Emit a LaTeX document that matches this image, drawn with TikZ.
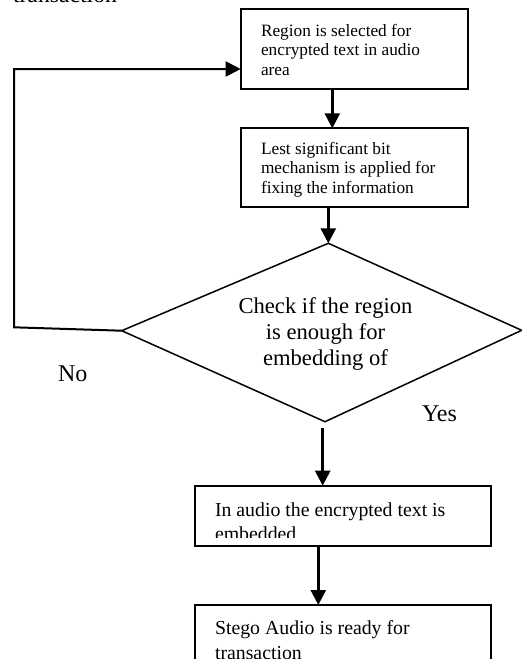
\documentclass[tikz,border=0pt]{standalone}
\usepackage{fontspec}
\setmainfont{Liberation Serif}
\usetikzlibrary{arrows.meta}
\begin{document}
\begin{tikzpicture}[x=1pt,y=-1pt,
  box/.style={draw, line width=2pt, anchor=north west, inner sep=0pt, outer sep=0pt},
  txt/.style={anchor=base west, inner sep=0pt, outer sep=0pt},
  arr/.style={line width=2.5pt, -{Triangle[length=15pt,width=15pt]}},
  small/.style={font=\fontsize{17.3}{19.7}\selectfont},
  mid/.style={font=\fontsize{19.8}{24.8}\selectfont},
  big/.style={font=\fontsize{22.6}{26}\selectfont}]
\useasboundingbox (0,0) rectangle (522,659);
\clip (0,0) rectangle (522,659);

% leftover text at top
\node[txt, font=\fontsize{23.7}{28}\selectfont] (prev) at (13,2.7) {transaction};

% boxes
\node[box, minimum width=227pt, minimum height=79.7pt] (b1) at (240.7,9.3) {};
\node[box, minimum width=227pt, minimum height=79pt] (b2) at (240.7,128.3) {};
\node[box, minimum width=296pt, minimum height=60pt] (b3) at (195,485.7) {};
\node[box, minimum width=296pt, minimum height=80pt] (b4) at (195,605) {};

% box texts
\node[txt, small] (t1) at (261,36) {\parbox[t]{200pt}{\raggedright Region is selected for\\encrypted text in audio\\area}};
\node[txt, small] (t2) at (261,154) {\parbox[t]{200pt}{\raggedright Lest significant bit\\mechanism is applied for\\fixing the information}};
\begin{scope}
\clip (195,486) rectangle (491,537);
\node[txt, mid] (t3) at (215,516) {\parbox[t]{270pt}{\raggedright In audio the encrypted text is\\embedded}};
\end{scope}
\node[txt, mid] (t4) at (215,634.5) {\parbox[t]{270pt}{\raggedright Stego Audio is ready for\\transaction}};

% diamond
\coordinate (dtop) at (328.3,243.3);
\coordinate (dleft) at (121.7,330.7);
\coordinate (dright) at (521.7,330.3);
\coordinate (dbot) at (325,421.7);
\draw[line width=1.5pt, line join=miter] (dtop) -- (dright) -- (dbot) -- (dleft) -- cycle;
\node[anchor=base, inner sep=0pt, big] (dtext) at (325.5,313) {\parbox[t]{220pt}{\centering Check if the region\\is enough for\\embedding of}};

% labels
\node[txt, font=\fontsize{24}{28}\selectfont] (no) at (58,381.7) {No};
\node[txt, font=\fontsize{24}{28}\selectfont] (yes) at (422,421.7) {Yes};

% connectors
\coordinate (o1) at (332.3,89);
\coordinate (i2) at (332.3,128.3);
\draw[arr] (o1) -- (i2);
\coordinate (o2) at (328.3,207.3);
\draw[arr] (o2) -- (dtop);
\coordinate (o3) at (322.7,428);
\coordinate (i3) at (322.7,485.7);
\draw[arr] (o3) -- (i3);
\coordinate (o4) at (318.3,545.7);
\coordinate (i4) at (318.3,605);
\draw[arr] (o4) -- (i4);

% loop back
\coordinate (c1) at (14,327.3);
\coordinate (c2) at (14,69);
\coordinate (in1) at (240.7,69);
\draw[line width=2pt, line join=miter, -{Triangle[length=15pt,width=15pt]}] (dleft) -- (c1) -- (c2) -- (in1);
\end{tikzpicture}
\end{document}
